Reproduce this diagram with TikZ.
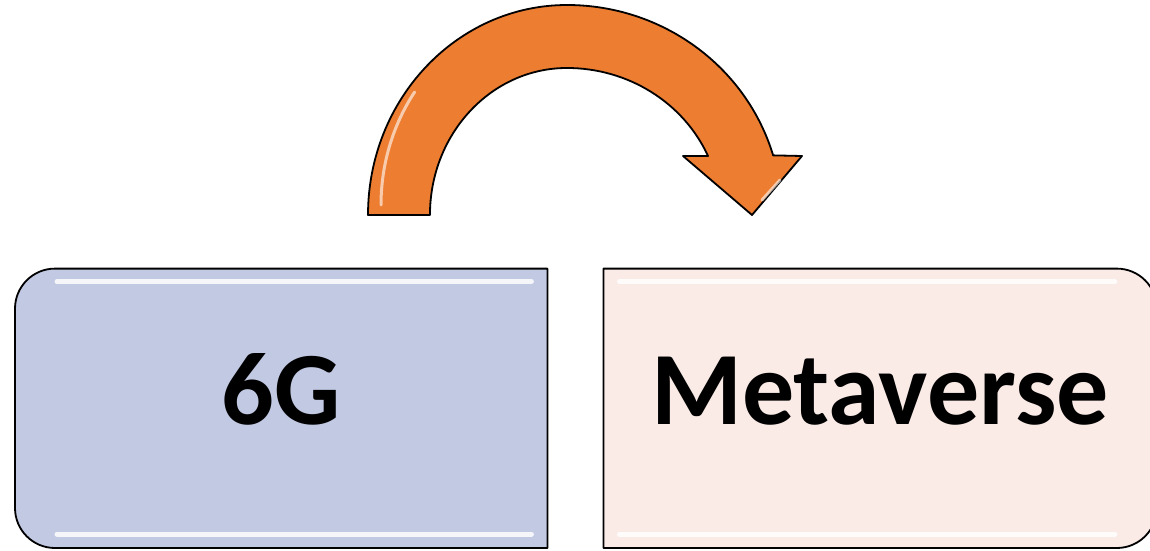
\documentclass[tikz,border=0pt]{standalone}
\usepackage{fontspec}
\setmainfont{Carlito}
\usetikzlibrary{positioning}
\definecolor{boxblue}{RGB}{193,201,227}
\definecolor{boxpink}{RGB}{250,235,231}
\definecolor{arroworange}{RGB}{237,125,49}
\begin{document}
\begin{tikzpicture}[x=1pt,y=1pt,
  box/.style={minimum height=279pt, inner sep=0pt},
  outline/.style={draw=black, line width=1.8pt, line join=round},
  shine/.style={white, line width=5pt, line cap=round, opacity=0.85},
  gloss/.style={white, line width=3pt, line cap=round, opacity=0.6},
  bigtext/.style={font=\fontsize{104}{104}\selectfont\bfseries, inner sep=0pt, anchor=base}]
\useasboundingbox (0,0) rectangle (1150,550);
\node[box, minimum width=532pt, anchor=south west] (sixg) at (15,2) {};
\node[box, minimum width=553pt, right=56pt of sixg] (meta) {};
% left box, rounded on the left side
\path[outline, fill=boxblue] (sixg.north east) -- (sixg.south east)
  -- ([xshift=40pt]sixg.south west) arc[start angle=270, end angle=180, radius=40pt]
  -- ([yshift=-40pt]sixg.north west) arc[start angle=180, end angle=90, radius=40pt] -- cycle;
% right box, rounded on the right side
\path[outline, fill=boxpink] (meta.north west)
  -- ([xshift=-40pt]meta.north east) arc[start angle=90, end angle=0, radius=40pt]
  -- ([yshift=40pt]meta.south east) arc[start angle=0, end angle=-90, radius=40pt]
  -- (meta.south west) -- cycle;
\draw[shine] ([shift={(42,-13)}]sixg.north west) -- ([shift={(-16,-13)}]sixg.north east);
\draw[shine] ([shift={(42,14)}]sixg.south west) -- ([shift={(-16,14)}]sixg.south east);
\draw[shine] ([shift={(16,-13)}]meta.north west) -- ([shift={(-42,-13)}]meta.north east);
\draw[shine] ([shift={(16,14)}]meta.south west) -- ([shift={(-42,14)}]meta.south east);
\node[bigtext] (sixglabel) at ([yshift=-16pt]sixg.center) {6G};
\node[bigtext] (metalabel) at ([yshift=-16pt]meta.center) {Metaverse};
% curved arrow from 6G over to Metaverse
\path[outline, fill=arroworange] (368,335)
  arc[start angle=180, end angle=90, x radius=199pt, y radius=210pt]
  arc[start angle=90, end angle=16.5, x radius=215pt, y radius=210pt]
  -- (802,394) -- (752,335) -- (683,394) -- (708,394)
  arc[start angle=23.66, end angle=90, x radius=154pt, y radius=147pt]
  arc[start angle=90, end angle=180, x radius=137pt, y radius=147pt] -- cycle;
\draw[gloss] (381,345)
  arc[start angle=180, end angle=145, x radius=186pt, y radius=197pt];
\draw[gloss] (439,345)
  arc[start angle=180, end angle=150, x radius=128pt, y radius=138pt];
\draw[gloss] (762,350) -- (780,370);
\end{tikzpicture}
\end{document}
